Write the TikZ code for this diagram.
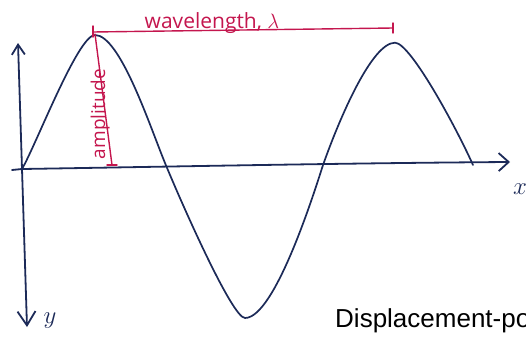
\documentclass[tikz,border=0pt]{standalone}
\usepackage{fontspec}
\newfontfamily\arialfont{Liberation Sans}
\newfontfamily\handfont{Open Sans}
\usetikzlibrary{arrows.meta}
\definecolor{navy}{RGB}{28,42,88}
\definecolor{crim}{RGB}{196,22,78}
\begin{document}
\begin{tikzpicture}[x=1pt,y=-1pt, line join=round, line cap=round,
  axisline/.style={navy, line width=1.8pt},
  wave/.style={navy, line width=1.7pt},
  dim/.style={crim, line width=1.4pt},
  hand/.style={crim, inner sep=0pt, font=\handfont\fontsize{21}{24}\selectfont},
  axlab/.style={navy, inner sep=0pt, font=\fontsize{32}{34}\selectfont}]
\useasboundingbox (0,0) rectangle (526,340);
% axes
\coordinate (xl) at (12,170);
\coordinate (O) at (22,169);
\coordinate (xr) at (510,162);
\coordinate (yt) at (18,43);
\coordinate (yb) at (27,327);
\draw[axisline, -{Straight Barb[length=10pt,width=18pt]}] (xl) -- (O) .. controls (150,167) and (350,163) .. (xr);
\draw[axisline, {Straight Barb[length=10pt,width=13pt]}-{Straight Barb[length=14pt,width=18pt]}] (yt) -- (O) -- (yb);
% wave
\coordinate (p1) at (95,35);
\coordinate (z1) at (165,163);
\coordinate (t1) at (245,318);
\coordinate (z2) at (323,165);
\coordinate (p2) at (395,42.7);
\coordinate (e) at (473,165);
\draw[wave] (O) .. controls (36,145) and (78,35) .. (p1)
  .. controls (120,35) and (149.8,126) .. (z1)
  .. controls (180.2,200) and (232,318) .. (t1)
  .. controls (275,318) and (315,190) .. (z2)
  .. controls (340,117) and (372,42.7) .. (p2)
  .. controls (410,42.7) and (455,125) .. (e);
% axis labels
\node[axlab] (xlab) at (520,189) {$x$};
\node[axlab] (ylab) at (50,321) {$y$};
% wavelength
\coordinate (wl) at (93,32);
\coordinate (wr) at (393,28);
\draw[dim] (wl) -- (wr);
\draw[dim] (93,26) -- (93,37);
\draw[dim] (393,23) -- (393,33);
\node[hand, anchor=base] (wlab) at (212,28) {wavelength, $\lambda$};
% amplitude
\coordinate (pk) at (95,34);
\coordinate (ab) at (112,165);
\draw[dim] (pk) -- (ab);
\draw[dim] (107,165) -- (117,165);
\node[hand, rotate=90, anchor=base, font=\handfont\fontsize{19}{22}\selectfont] (alab) at (105,114) {amplitude};
% caption
\node[anchor=base west, inner sep=0pt, font=\arialfont\fontsize{26}{30}\selectfont] (cap) at (335,327) {Displacement-po};
\end{tikzpicture}
\end{document}
